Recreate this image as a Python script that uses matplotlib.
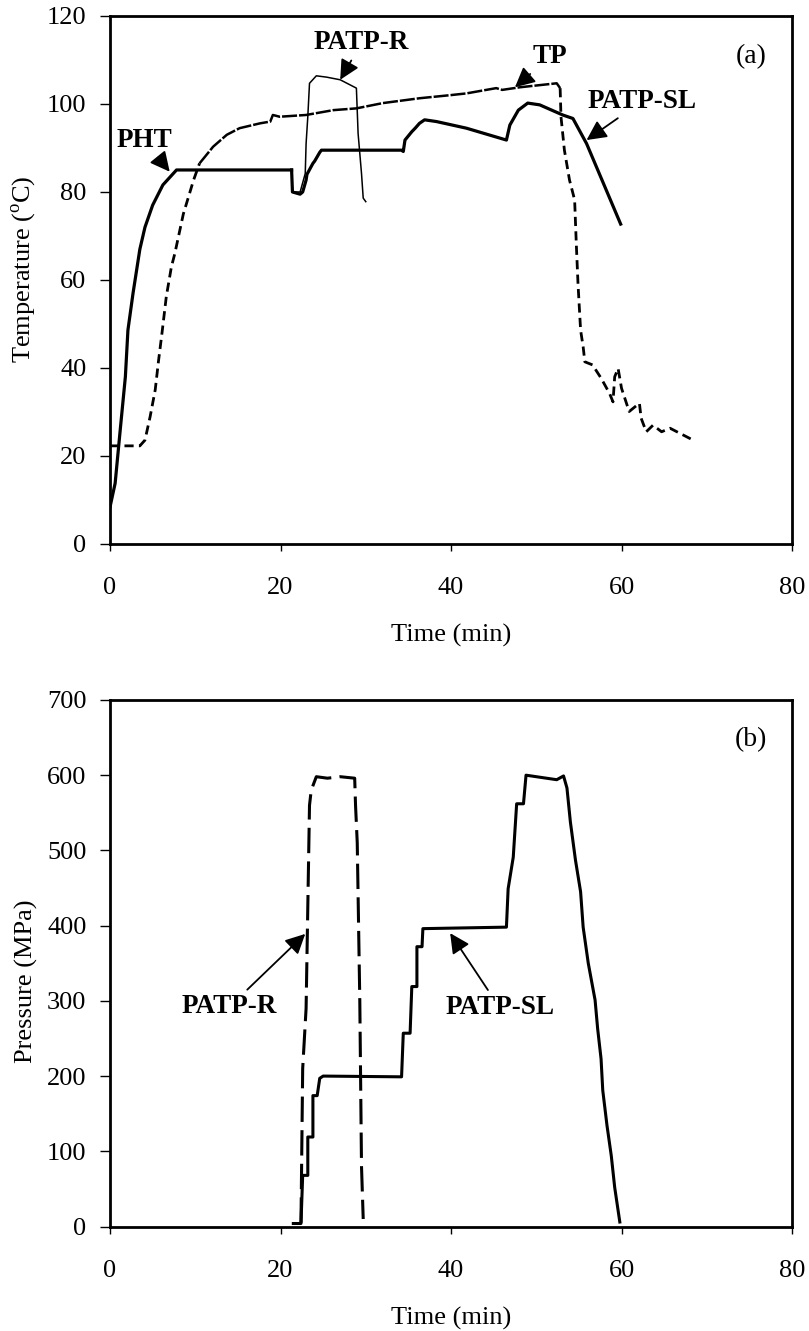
import matplotlib
matplotlib.use('Agg')
import matplotlib.pyplot as plt

plt.rcParams['font.family'] = 'Liberation Serif'
plt.rcParams['mathtext.fontset'] = 'custom'
plt.rcParams['mathtext.rm'] = 'Liberation Serif'

# (a) temperature histories
pht_t = [0, 0.6, 1.2, 1.8, 2.1, 2.7, 3.5, 4.1, 5.0, 6.2, 7.8, 21.3]
pht_T = [8.4, 13.8, 26, 38, 48.6, 57, 67, 72, 77, 81.6, 85, 85]

tp_t = [0, 3.5, 4.1, 4.7, 5.3, 5.7, 6.1, 6.6, 7.2, 7.6, 8.6, 9.8, 10.5, 12.1,
        13.7, 15.2, 17.6, 18.8, 19.1, 19.9, 23.0, 26.2, 28.9, 32.0, 36.3, 39.9,
        41.8, 45.3, 46.0, 48.1, 52.4, 52.8, 52.9, 53.3, 53.9, 54.5, 54.7, 54.9,
        55.2, 55.5, 55.7, 56.6, 57.6, 58.6, 59.0, 59.2, 59.6, 60.0, 60.9, 62.1,
        62.3, 62.9, 63.7, 64.7, 65.7, 67.2, 68.4]
tp_T = [22.3, 22.3, 23.6, 28.9, 35, 41.8, 48, 56.2, 63, 66, 75, 82.7, 86.5, 90.3,
        93, 94.5, 95.6, 96, 97.5, 97.1, 97.5, 98.6, 99, 100.2, 101.3, 102,
        102.4, 103.6, 103.2, 103.8, 104.7, 103.6, 97.1, 89.5, 82.7, 78.2, 68, 59,
        48.6, 44.8, 41.4, 40.7, 37.7, 34.2, 32.3, 38, 39.9, 35.4, 30.1, 32,
        28.6, 25.5, 27, 25.5, 26.3, 24.8, 23.6]

r_t = [21.3, 21.4, 22.3, 22.9, 23.0, 23.2, 23.4, 24.2, 25.4, 27.0, 28.9, 29.1,
       29.5, 29.7, 30.0]
r_T = [85, 80, 80, 84.2, 91, 97.1, 104.7, 106.4, 106.1, 105.5, 103.6, 93.3,
       84.2, 78.6, 77.8]

sl_t = [21.3, 21.4, 22.3, 22.6, 23.0, 23.1, 23.8, 24.0, 24.6, 24.8, 34.2, 34.4,
        34.6, 35.4, 35.8, 36.3, 36.9, 38.3, 41.8, 46.5, 46.9, 47.9, 49.0, 50.4,
        53.1, 54.3, 55.9, 59.9]
sl_T = [85, 80, 79.5, 80, 82.7, 84, 86.5, 87, 89, 89.5, 89.5, 89.2,
        91.8, 93.7, 94.5, 95.6, 96.4, 96, 94.5, 91.8, 95.2, 98.6, 100.2, 99.8,
        97.5, 96.7, 91, 72.7]

# (b) pressure histories
rp_t = [22.4, 22.6, 23.0, 23.4, 23.6, 24.2, 25.5, 27.0, 28.7, 28.8, 29.0, 29.3,
        29.5, 29.7]
rp_P = [5, 210, 290, 560, 580, 598, 596, 598, 596, 560, 510, 300, 80, 10]

slp_t = [21.5, 22.4, 22.6, 23.2, 23.2, 23.8, 23.8, 24.3, 24.6, 25.0, 34.2, 34.4,
         35.2, 35.4, 36.0, 36.0, 36.6, 36.7, 46.5, 46.7, 47.3, 47.7, 48.5, 48.8,
         52.4, 53.2, 53.6, 54.0, 54.6, 55.2, 55.5, 56.1, 56.9, 57.2, 57.6, 57.8,
         58.3, 58.8, 59.2, 59.8]
slp_P = [4, 4, 68, 68, 119, 119, 174, 174, 197, 200, 199, 257,
         257, 319, 319, 372, 372, 396, 398, 449, 491, 562, 562, 600,
         594, 599, 583, 538, 487, 445, 398, 350, 301, 263, 223, 181,
         134, 94, 52, 6]

fig = plt.figure(figsize=(8.09, 13.31), dpi=100)
ax1 = fig.add_axes([0.136, 0.5913, 0.843, 0.3967])
ax2 = fig.add_axes([0.136, 0.0785, 0.843, 0.3956])

ax1.plot(pht_t, pht_T, color='black', lw=2.3)
# TP: dashed on the steep parts, nearly solid on the plateau
ax1.plot(tp_t[:13], tp_T[:13], color='black', lw=2.0, linestyle=(0, (3.3, 1.9)))
ax1.plot(tp_t[12:32], tp_T[12:32], color='black', lw=1.8, linestyle=(0, (6, 0.8)))
ax1.plot(tp_t[31:], tp_T[31:], color='black', lw=2.0, linestyle=(0, (3.3, 1.9)))
ax1.plot(r_t, r_T, color='black', lw=1.1)
ax1.plot(sl_t, sl_T, color='black', lw=2.3)

ax2.plot(rp_t, rp_P, color='black', lw=2.2, linestyle=(0, (8.3, 2.7)))
ax2.plot(slp_t, slp_P, color='black', lw=2.2)

arrow = dict(arrowstyle='-|>,head_length=0.6,head_width=0.3', color='black',
             lw=1.3, mutation_scale=20, shrinkA=2, shrinkB=0)
lab = dict(fontsize=19.5, fontweight='bold', ha='center', va='center')

ax1.annotate('PHT', xy=(7.0, 84.6), xytext=(4.0, 91.8), arrowprops=arrow, **lab)
ax1.annotate('PATP-R', xy=(27.0, 105.5), xytext=(29.5, 113.9), arrowprops=arrow, **lab)
ax1.annotate('TP', xy=(47.5, 103.8), xytext=(51.6, 110.7), arrowprops=arrow, **lab)
ax1.annotate('PATP-SL', xy=(55.9, 91.8), xytext=(62.4, 100.6), arrowprops=arrow, **lab)
ax1.text(75.2, 110.7, '(a)', fontsize=20, ha='center', va='center')

ax2.annotate('PATP-R', xy=(22.9, 389), xytext=(14.0, 292), arrowprops=arrow, **lab)
ax2.annotate('PATP-SL', xy=(39.9, 390), xytext=(45.7, 291), arrowprops=arrow, **lab)
ax2.text(75.2, 647, '(b)', fontsize=20, ha='center', va='center')

ax1.set_xlim(0, 80)
ax1.set_ylim(0, 120)
ax1.set_xticks(range(0, 81, 20))
ax1.set_yticks(range(0, 121, 20))
ax1.set_xlabel('Time (min)', fontsize=19)
ax1.set_ylabel('Temperature ($^{\\rm o}$C)', fontsize=19)

ax2.set_xlim(0, 80)
ax2.set_ylim(0, 700)
ax2.set_xticks(range(0, 81, 20))
ax2.set_yticks(range(0, 701, 100))
ax2.set_xlabel('Time (min)', fontsize=19)
ax2.set_ylabel('Pressure (MPa)', fontsize=19)

for ax in (ax1, ax2):
    for s in ax.spines.values():
        s.set_linewidth(2.0)
    ax.tick_params(axis='x', direction='out', length=5, width=1, labelsize=19, pad=19)
    ax.tick_params(axis='y', direction='out', length=7, width=1, labelsize=19, pad=10)
    ax.xaxis.set_label_coords(0.5, -0.152)
ax1.yaxis.set_label_coords(-0.105, 0.52)
ax2.yaxis.set_label_coords(-0.105, 0.465)

fig.savefig('out.png', dpi=100)
